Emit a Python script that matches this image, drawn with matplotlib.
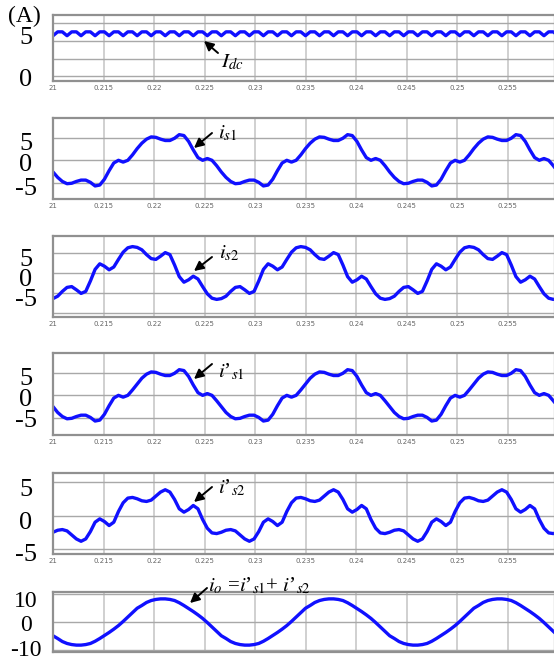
import matplotlib
matplotlib.use('Agg')
import matplotlib.pyplot as plt
import numpy as np

plt.rcParams['font.family'] = ['Liberation Serif', 'DejaVu Serif']
plt.rcParams['mathtext.fontset'] = 'stix'

W, H = 554, 660
PX_PER_S = 10100.0

# samples every 1/36 of a 60 Hz cycle, starting at t = 0.21 s
t = 0.21 + np.arange(109) * (1.0 / 60) / 36

i_dc = [5.75, 6.3, 6.3] * 36 + [5.75]

i_s1 = [
    -2.6, -3.8, -4.7, -5.2, -5.1, -4.7, -4.4, -4.4, -4.9, -5.7, -5.5, -4.2, -2.3, -0.6, 0.0, -0.4, 0.0, 1.2,
    2.6, 3.8, 4.7, 5.2, 5.1, 4.7, 4.4, 4.4, 4.9, 5.7, 5.5, 4.2, 2.3, 0.6, 0.0, 0.4, 0.0, -1.2,
    -2.6, -3.8, -4.7, -5.2, -5.1, -4.7, -4.4, -4.4, -4.9, -5.7, -5.5, -4.2, -2.3, -0.6, 0.0, -0.4, 0.0, 1.2,
    2.6, 3.8, 4.7, 5.2, 5.1, 4.7, 4.4, 4.4, 4.9, 5.7, 5.5, 4.2, 2.3, 0.6, 0.0, 0.4, 0.0, -1.2,
    -2.6, -3.8, -4.7, -5.2, -5.1, -4.7, -4.4, -4.4, -4.9, -5.7, -5.5, -4.2, -2.3, -0.6, 0.0, -0.4, 0.0, 1.2,
    2.6, 3.8, 4.7, 5.2, 5.1, 4.7, 4.4, 4.4, 4.9, 5.7, 5.5, 4.2, 2.3, 0.6, 0.0, 0.4, 0.0, -1.2,
    -2.6]

i_s2 = [
    -6.4, -5.8, -4.6, -3.6, -3.4, -4.2, -5.1, -4.6, -2.0, 0.9, 2.3, 1.7, 0.8, 1.5, 3.4, 5.2, 6.3, 6.6,
    6.4, 5.8, 4.6, 3.6, 3.4, 4.2, 5.1, 4.6, 2.0, -0.9, -2.3, -1.7, -0.8, -1.5, -3.4, -5.2, -6.3, -6.6,
    -6.4, -5.8, -4.6, -3.6, -3.4, -4.2, -5.1, -4.6, -2.0, 0.9, 2.3, 1.7, 0.8, 1.5, 3.4, 5.2, 6.3, 6.6,
    6.4, 5.8, 4.6, 3.6, 3.4, 4.2, 5.1, 4.6, 2.0, -0.9, -2.3, -1.7, -0.8, -1.5, -3.4, -5.2, -6.3, -6.6,
    -6.4, -5.8, -4.6, -3.6, -3.4, -4.2, -5.1, -4.6, -2.0, 0.9, 2.3, 1.7, 0.8, 1.5, 3.4, 5.2, 6.3, 6.6,
    6.4, 5.8, 4.6, 3.6, 3.4, 4.2, 5.1, 4.6, 2.0, -0.9, -2.3, -1.7, -0.8, -1.5, -3.4, -5.2, -6.3, -6.6,
    -6.4]

i_s1_p = [
    -2.5, -3.8, -4.7, -5.2, -5.1, -4.7, -4.4, -4.4, -4.9, -5.7, -5.5, -4.2, -2.3, -0.6, 0.0, -0.4, 0.0, 1.2,
    2.5, 3.8, 4.7, 5.2, 5.1, 4.7, 4.4, 4.4, 4.9, 5.7, 5.5, 4.2, 2.3, 0.6, 0.0, 0.4, 0.0, -1.2,
    -2.5, -3.8, -4.7, -5.2, -5.1, -4.7, -4.4, -4.4, -4.9, -5.7, -5.5, -4.2, -2.3, -0.6, 0.0, -0.4, 0.0, 1.2,
    2.5, 3.8, 4.7, 5.2, 5.1, 4.7, 4.4, 4.4, 4.9, 5.7, 5.5, 4.2, 2.3, 0.6, 0.0, 0.4, 0.0, -1.2,
    -2.5, -3.8, -4.7, -5.2, -5.1, -4.7, -4.4, -4.4, -4.9, -5.7, -5.5, -4.2, -2.3, -0.6, 0.0, -0.4, 0.0, 1.2,
    2.5, 3.8, 4.7, 5.2, 5.1, 4.7, 4.4, 4.4, 4.9, 5.7, 5.5, 4.2, 2.3, 0.6, 0.0, 0.4, 0.0, -1.2,
    -2.5]

i_s2_p = [
    -2.5, -2.2, -2.1, -2.3, -2.9, -3.5, -3.85, -3.5, -2.4, -1.0, -0.5, -0.9, -1.5, -1.0, 0.6, 1.9, 2.6, 2.7,
    2.5, 2.2, 2.1, 2.3, 2.9, 3.5, 3.85, 3.5, 2.4, 1.0, 0.5, 0.9, 1.5, 1.0, -0.6, -1.9, -2.6, -2.7,
    -2.5, -2.2, -2.1, -2.3, -2.9, -3.5, -3.85, -3.5, -2.4, -1.0, -0.5, -0.9, -1.5, -1.0, 0.6, 1.9, 2.6, 2.7,
    2.5, 2.2, 2.1, 2.3, 2.9, 3.5, 3.85, 3.5, 2.4, 1.0, 0.5, 0.9, 1.5, 1.0, -0.6, -1.9, -2.6, -2.7,
    -2.5, -2.2, -2.1, -2.3, -2.9, -3.5, -3.85, -3.5, -2.4, -1.0, -0.5, -0.9, -1.5, -1.0, 0.6, 1.9, 2.6, 2.7,
    2.5, 2.2, 2.1, 2.3, 2.9, 3.5, 3.85, 3.5, 2.4, 1.0, 0.5, 0.9, 1.5, 1.0, -0.6, -1.9, -2.6, -2.7,
    -2.5]

i_o = [
    -5.0, -6.0, -7.1, -7.8, -8.2, -8.4, -8.4, -8.2, -7.8, -7.0, -6.0, -4.9, -3.8, -2.6, -1.3, 0.2, 1.8, 3.4,
    5.0, 6.0, 7.1, 7.8, 8.2, 8.4, 8.4, 8.2, 7.8, 7.0, 6.0, 4.9, 3.8, 2.6, 1.3, -0.2, -1.8, -3.4,
    -5.0, -6.0, -7.1, -7.8, -8.2, -8.4, -8.4, -8.2, -7.8, -7.0, -6.0, -4.9, -3.8, -2.6, -1.3, 0.2, 1.8, 3.4,
    5.0, 6.0, 7.1, 7.8, 8.2, 8.4, 8.4, 8.2, 7.8, 7.0, 6.0, 4.9, 3.8, 2.6, 1.3, -0.2, -1.8, -3.4,
    -5.0, -6.0, -7.1, -7.8, -8.2, -8.4, -8.4, -8.2, -7.8, -7.0, -6.0, -4.9, -3.8, -2.6, -1.3, 0.2, 1.8, 3.4,
    5.0, 6.0, 7.1, 7.8, 8.2, 8.4, 8.4, 8.2, 7.8, 7.0, 6.0, 4.9, 3.8, 2.6, 1.3, -0.2, -1.8, -3.4,
    -5.0]

x_ticks = [0.21, 0.215, 0.22, 0.225, 0.23, 0.235, 0.24, 0.245, 0.25, 0.255]
x_labels = ['21', '0.215', '0.22', '0.225', '0.23', '0.235', '0.24', '0.245', '0.25', '0.255']

# series, (top px, bottom px), ylim, grid rows, label rows, labels, label size, show x labels
panels = [
    (i_dc, (15, 81), (-0.7, 8.7), [0, 2.5, 5, 7.5], [-0.15, 5.85], ['0', '5'], 19, True),
    (i_s1, (118, 199), (-8.6, 9.4), [-5, 0, 5], [-5.9, -0.55, 4.1], ['-5', '0', '5'], 19, True),
    (i_s2, (236, 317), (-11, 9.25), [-10, -5, 0, 5], [-6, -1.25, 3.75], ['-5', '0', '5'], 19, True),
    (i_s1_p, (353, 435), (-8.8, 9.4), [-5, 0, 5], [-5.2, -0.55, 4.1], ['-5', '0', '5'], 19, True),
    (i_s2_p, (473, 554), (-5.75, 6.35), [-5, 0, 5], [-5.6, -0.7, 4.25], ['-5', '0', '5'], 19, True),
    (i_o, (592, 652), (-10.9, 10.9), [-10, 0, 10], [-9.3, -0.4, 8.4], ['-10', '0', '10'], 17, False),
]

LEFT, RIGHT = 53, 555


def draw_panel(fig, series, rows, ylim, grid_y, lab_y, labs, lab_size, show_x):
    top, bottom = rows
    ax = fig.add_axes([LEFT / W, 1 - bottom / H, (RIGHT - LEFT) / W, (bottom - top) / H])
    ax.plot(t, series, color='#1010ff', lw=2.4, solid_capstyle='round')
    ax.set_xlim(0.21, 0.21 + (RIGHT - LEFT) / PX_PER_S)
    ax.set_ylim(*ylim)

    ax.set_xticks(x_ticks)
    if show_x:
        ax.set_xticklabels(x_labels, fontsize=5, color='#666666',
                           family=['Liberation Sans Narrow', 'DejaVu Sans'])
    else:
        ax.set_xticklabels([])
    ax.set_yticks(lab_y)
    ax.set_yticklabels(labs, fontsize=lab_size)
    ax.set_yticks(grid_y, minor=True)
    for lbl in ax.get_yticklabels():
        lbl.set_horizontalalignment('center')

    ax.tick_params(axis='both', which='both', length=0)
    ax.tick_params(axis='x', pad=3)
    ax.tick_params(axis='y', pad=19.5)
    ax.grid(True, axis='x', which='major', color='#c8c8c8', lw=1.2)
    ax.grid(True, axis='y', which='minor', color='#a8a8a8', lw=1.0)
    for sp in ax.spines.values():
        sp.set_color('#909090')
        sp.set_linewidth(1.6)
    return ax


def arrow_note(ax, text, tail, tip, text_at):
    ax.annotate('', xy=(tip[0], H - tip[1]), xycoords='figure pixels',
                xytext=(tail[0], H - tail[1]), textcoords='figure pixels',
                arrowprops=dict(arrowstyle='-|>', color='k', lw=1.4,
                                mutation_scale=14, shrinkA=0, shrinkB=0),
                annotation_clip=False)
    ax.figure.text(text_at[0] / W, 1 - text_at[1] / H, text, fontsize=15,
                   ha='left', va='baseline')


fig = plt.figure(figsize=(W / 100.0, H / 100.0), dpi=100)
axes = []
for spec in panels:
    axes.append(draw_panel(fig, *spec))

fig.text(8 / W, 1 - 22 / H, '(A)', fontsize=17, ha='left', va='baseline')

arrow_note(axes[0], r'$I_{dc}$', (218, 53), (204, 41), (221, 67))
arrow_note(axes[1], r'$i_{s1}$', (212, 133), (194, 148), (218, 138))
arrow_note(axes[2], r'$i_{s2}$', (212, 257), (194, 271), (219, 258))
arrow_note(axes[3], "$i$\u2019$_{s1}$", (212, 364), (194, 379), (218, 377))
arrow_note(axes[4], "$i$\u2019$_{s2}$", (212, 487), (194, 502), (218, 493))
arrow_note(axes[5], "$i_o$ =$i$\u2019$_{s1}$+ $i$\u2019$_{s2}$", (207, 588), (190, 603), (208, 591))

fig.savefig('out.png', dpi=100)
